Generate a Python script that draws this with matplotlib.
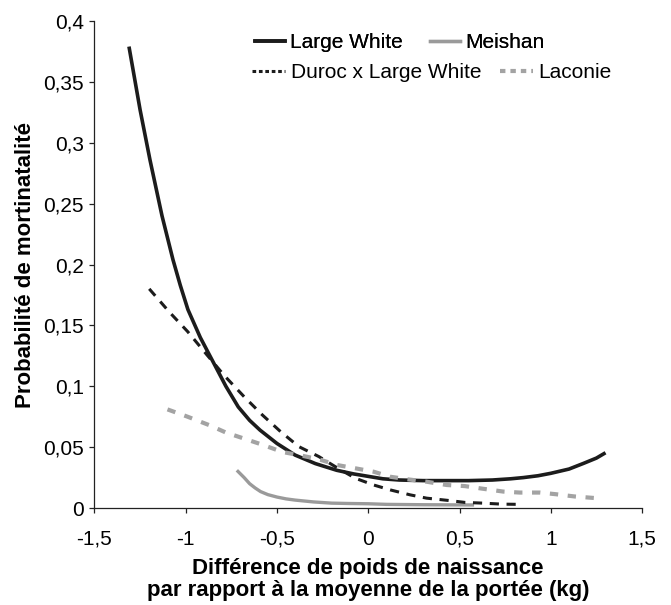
import matplotlib
matplotlib.use("Agg")
import matplotlib.pyplot as plt
from matplotlib.lines import Line2D
from matplotlib.ticker import FuncFormatter, MultipleLocator

plt.rcParams['font.family'] = ['Liberation Sans', 'DejaVu Sans']

# donnees
lw_x = [-1.311, -1.25, -1.196, -1.13, -1.07, -1.03, -0.988, -0.92, -0.857, -0.78, -0.712, -0.65, -0.593, -0.5, -0.401,
        -0.29, -0.173, -0.08, 0.0, 0.08, 0.17, 0.3, 0.4, 0.55, 0.68, 0.78, 0.85, 0.93, 1.0, 1.1, 1.18, 1.25, 1.3]
lw_y = [0.379, 0.327, 0.286, 0.240, 0.204, 0.183, 0.163, 0.140, 0.122, 0.100, 0.083, 0.072, 0.064, 0.053, 0.0435,
        0.0365, 0.031, 0.028, 0.026, 0.024, 0.023, 0.0225, 0.0225, 0.0225, 0.023, 0.024, 0.025, 0.0265, 0.0285, 0.032,
        0.0367, 0.041, 0.0454]

mei_x = [-0.72, -0.68, -0.65, -0.62, -0.59, -0.55, -0.5, -0.45, -0.4, -0.3, -0.2, -0.1, 0.0, 0.1, 0.3, 0.58]
mei_y = [0.031, 0.025, 0.020, 0.0165, 0.0135, 0.011, 0.009, 0.0075, 0.0065, 0.005, 0.004, 0.0037, 0.0035, 0.003,
         0.0027, 0.0025]

dlw_x = [-1.2, -1.09, -0.99, -0.885, -0.79, -0.68, -0.58, -0.48, -0.38, -0.27, -0.17, -0.07, 0.03, 0.12, 0.23, 0.32,
         0.44, 0.53, 0.63, 0.73, 0.83]
dlw_y = [0.180, 0.161, 0.145, 0.126, 0.109, 0.0914, 0.0764, 0.0627, 0.0504, 0.0422, 0.033, 0.0244, 0.0189, 0.0149,
         0.0108, 0.0081, 0.0062, 0.0046, 0.004, 0.0032, 0.003]

lac_x = [-1.1, -0.99, -0.87, -0.78, -0.68, -0.58, -0.47, -0.38, -0.27, -0.17, -0.07, 0.03, 0.12, 0.22, 0.32, 0.43,
         0.53, 0.62, 0.74, 0.83, 0.94, 1.03, 1.13, 1.25]
lac_y = [0.081, 0.075, 0.068, 0.062, 0.057, 0.052, 0.046, 0.0435, 0.040, 0.0353, 0.0326, 0.0298, 0.0257, 0.0235,
         0.0216, 0.0189, 0.018, 0.016, 0.0135, 0.0127, 0.0127, 0.0113, 0.0095, 0.0081]

x_ticks = [-1.5, -1, -0.5, 0, 0.5, 1, 1.5]

noir = '#1c1c1c'
gris = '#a3a3a3'
fs = 15

fig = plt.figure(figsize=(6.71, 6.05), dpi=100)
ax = fig.add_axes([0.1408, 0.1603, 0.8160, 0.8050])

ax.plot(lw_x, lw_y, color=noir, lw=2.6, solid_capstyle='butt', solid_joinstyle='round')
ax.plot(mei_x, mei_y, color='#9a9a9a', lw=2.4, solid_capstyle='butt', solid_joinstyle='round')
ax.plot(dlw_x, dlw_y, color=noir, lw=2.2, linestyle=(0, (3, 2.5)), dash_capstyle='butt')
ax.plot(lac_x, lac_y, color=gris, lw=3.0, linestyle=(0, (2, 2.3)), dash_capstyle='butt')

ax.set_xlim(-1.5, 1.5)
ax.set_ylim(0, 0.4)
ax.set_xticks(x_ticks)
ax.yaxis.set_major_locator(MultipleLocator(0.05))
virg = FuncFormatter(lambda v, p: '{:g}'.format(round(v, 2)).replace('.', ','))
ax.xaxis.set_major_formatter(virg)
ax.yaxis.set_major_formatter(virg)

for s in ['top', 'right']:
    ax.spines[s].set_visible(False)
for s in ['left', 'bottom']:
    ax.spines[s].set_linewidth(0.9)
    ax.spines[s].set_color('#222222')
ax.tick_params(axis='both', direction='out', length=3.6, width=0.9, colors='#222222', labelsize=fs, labelcolor='black')
ax.tick_params(axis='x', pad=12)
ax.tick_params(axis='y', pad=4)

ax.set_xlabel('Différence de poids de naissance\npar rapport à la moyenne de la portée (kg)',
              fontsize=16, fontweight='bold', linespacing=1.05, labelpad=7)
ax.set_ylabel('Probabilité de mortinatalité', fontsize=16, fontweight='bold', labelpad=5)

# legende sur deux lignes, a la maniere d'Excel
h1 = [Line2D([], [], color=noir, lw=2.6), Line2D([], [], color='#9a9a9a', lw=2.4)]
h2 = [Line2D([], [], color=noir, lw=2.2, linestyle=(0, (1.2, 0.9))),
      Line2D([], [], color=gris, lw=3.0, linestyle=(0, (1.3, 1.2)))]
leg1 = fig.legend(h1, ['Large White', 'Meishan'], ncol=2, loc='center left',
                  bbox_to_anchor=(255 / 671, 1 - 43 / 605), frameon=False, fontsize=fs,
                  handlelength=1.45, handletextpad=0.25, columnspacing=1.3,
                  borderpad=0, borderaxespad=0)
leg2 = fig.legend(h2, ['Duroc x Large White', 'Laconie'], ncol=2, loc='center left',
                  bbox_to_anchor=(252 / 671, 1 - 73 / 605), frameon=False, fontsize=fs,
                  handlelength=1.6, handletextpad=0.25, columnspacing=0.9,
                  borderpad=0, borderaxespad=0)
fig.add_artist(leg1)

fig.savefig('out.png', dpi=100)
